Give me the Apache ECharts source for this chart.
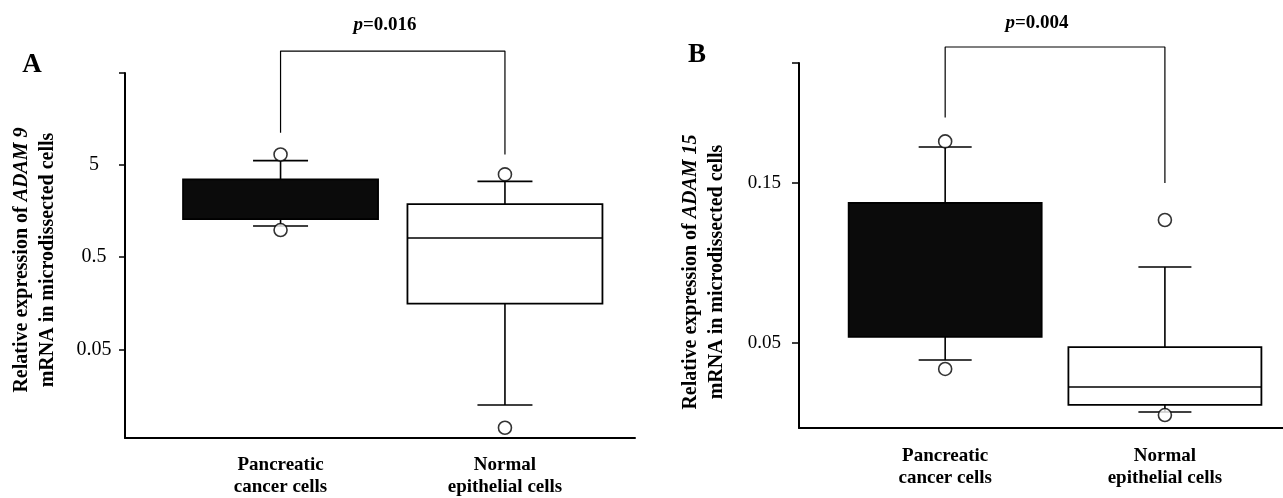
<!DOCTYPE html>
<html>
<head>
<meta charset="utf-8">
<script src="https://cdn.jsdelivr.net/npm/echarts@6/dist/echarts.min.js"></script>
<style>
  html, body { margin: 0; padding: 0; background: #fff; }
  #chart { width: 1283px; height: 498px; }
</style>
</head>
<body>
<div id="chart"></div>
<script>
// ---------------- data ----------------
const categories = ['Pancreatic\ncancer cells', 'Normal\nepithelial cells'];

// Panel A: ADAM 9 (log scale)  [min, Q1, median, Q3, max]
const adam9Pancreatic = [1.08, 1.28, 2.1, 3.45, 5.5];
const adam9Normal = [0.0125, 0.156, 0.80, 1.86, 3.28];
const adam9OutliersPancreatic = [6.4, 0.975];
const adam9OutliersNormal = [3.9, 0.0071];
const tickValuesA = [0.05, 0.5, 5];
const tickLabelsA = ['0.05', '0.5', '5'];
const bracketA = [11.0, 84, 6.4]; // left leg end, bar level, right leg end

// Panel B: ADAM 15 (linear scale)  [min, Q1, median, Q3, max]
const adam15Pancreatic = [0.0394, 0.0538, 0.09, 0.1375, 0.1725];
const adam15Normal = [0.0069, 0.0113, 0.0225, 0.0475, 0.0975];
const adam15OutliersPancreatic = [0.176, 0.0338];
const adam15OutliersNormal = [0.1269, 0.005];
const tickValuesB = [0.05, 0.15];
const tickLabelsB = ['0.05', '0.15'];
const bracketB = [0.191, 0.235, 0.150];

const pValues = ['0.016', '0.004'];

// ---------------- layout / style ----------------
const FONT = '"Liberation Serif", "Times New Roman", serif';
const posA = [0.305, 0.745];
const posB = [0.302, 0.756];
const boxFills = ['#0b0b0b', '#ffffff'];
const yMinA = 0.0055, yMaxA = 48.7;
const yMinB = -0.0031, yMaxB = 0.225;

function labelFrom(values, labels) {
  return function (v) {
    let best = 0;
    for (let i = 1; i < values.length; i++) {
      if (Math.abs(values[i] - v) < Math.abs(values[best] - v)) best = i;
    }
    return labels[best];
  };
}

function boxRenderer(boxW, capW) {
  return function (params, api) {
    const x = api.value(0);
    const p = [1, 2, 3, 4, 5].map(i => api.coord([x, api.value(i)]));
    const cx = p[0][0];
    const ls = { stroke: '#000', lineWidth: 1.6 };
    const fill = boxFills[params.dataIndex];
    return {
      type: 'group',
      children: [
        { type: 'line', shape: { x1: cx, y1: p[0][1], x2: cx, y2: p[1][1] }, style: ls },
        { type: 'line', shape: { x1: cx, y1: p[3][1], x2: cx, y2: p[4][1] }, style: ls },
        { type: 'line', shape: { x1: cx - capW / 2, y1: p[0][1], x2: cx + capW / 2, y2: p[0][1] }, style: ls },
        { type: 'line', shape: { x1: cx - capW / 2, y1: p[4][1], x2: cx + capW / 2, y2: p[4][1] }, style: ls },
        { type: 'rect', shape: { x: cx - boxW / 2, y: p[3][1], width: boxW, height: p[1][1] - p[3][1] },
          style: { fill: fill, stroke: '#000', lineWidth: 1.8 } },
        { type: 'line', shape: { x1: cx - boxW / 2, y1: p[2][1], x2: cx + boxW / 2, y2: p[2][1] },
          style: { stroke: '#000', lineWidth: 1.6, opacity: params.dataIndex === 0 ? 0 : 1 } }
      ]
    };
  };
}

function outlierData(pos, a, b) {
  const out = [];
  a.forEach(v => out.push([pos[0], v]));
  b.forEach(v => out.push([pos[1], v]));
  return out;
}

function bracketData(pos, br) {
  return [[pos[0], br[0]], [pos[0], br[1]], [pos[1], br[1]], [pos[1], br[2]]];
}

const axisLineStyle = { show: true, onZero: false, lineStyle: { color: '#000', width: 2 } };
const catLabel = {
  fontFamily: FONT, fontSize: 19, fontWeight: 'bold', color: '#000', lineHeight: 22
};

const chart = echarts.init(document.getElementById('chart'), null, { renderer: 'canvas' });

const option = {
  animation: false,
  backgroundColor: '#fff',
  grid: [
    { left: 125, top: 73, width: 510, height: 367 },
    { left: 799, top: 63, width: 484, height: 365 }
  ],
  xAxis: [
    {
      type: 'value', gridIndex: 0, min: 0, max: 1,
      axisLine: axisLineStyle, axisTick: { show: false }, splitLine: { show: false },
      axisLabel: Object.assign({ customValues: posA, margin: 16, formatter: labelFrom(posA, categories) }, catLabel)
    },
    {
      type: 'value', gridIndex: 1, min: 0, max: 1,
      axisLine: axisLineStyle, axisTick: { show: false }, splitLine: { show: false },
      axisLabel: Object.assign({ customValues: posB, margin: 17, formatter: labelFrom(posB, categories) }, catLabel)
    }
  ],
  yAxis: [
    {
      type: 'log', logBase: 10, gridIndex: 0, min: yMinA, max: yMaxA,
      axisLine: axisLineStyle, splitLine: { show: false },
      axisTick: { show: true, customValues: tickValuesA.concat([yMaxA]), length: 6, lineStyle: { color: '#000', width: 1.5 } },
      axisLabel: {
        customValues: tickValuesA, formatter: labelFrom(tickValuesA, tickLabelsA),
        align: 'center', margin: 31, fontFamily: FONT, fontSize: 20, color: '#000'
      }
    },
    {
      type: 'value', gridIndex: 1, min: yMinB, max: yMaxB,
      axisLine: axisLineStyle, splitLine: { show: false },
      axisTick: { show: true, customValues: tickValuesB.concat([yMaxB]), length: 7, lineStyle: { color: '#000', width: 1.5 } },
      axisLabel: {
        customValues: tickValuesB, formatter: labelFrom(tickValuesB, tickLabelsB),
        align: 'right', margin: 18, fontFamily: FONT, fontSize: 19, color: '#000'
      }
    }
  ],
  series: [
    {
      type: 'custom', xAxisIndex: 0, yAxisIndex: 0,
      encode: { x: 0, y: [1, 2, 3, 4, 5] },
      renderItem: boxRenderer(195, 55),
      data: [[posA[0]].concat(adam9Pancreatic), [posA[1]].concat(adam9Normal)], z: 2
    },
    {
      type: 'scatter', xAxisIndex: 0, yAxisIndex: 0, symbol: 'circle', symbolSize: 13,
      itemStyle: { color: '#fff', borderColor: '#000', borderWidth: 1.6 },
      data: outlierData(posA, adam9OutliersPancreatic, adam9OutliersNormal), z: 3
    },
    {
      type: 'line', xAxisIndex: 0, yAxisIndex: 0, clip: false, symbol: 'none',
      lineStyle: { color: '#000', width: 1.2 },
      data: bracketData(posA, bracketA), z: 1
    },
    {
      type: 'custom', xAxisIndex: 1, yAxisIndex: 1,
      encode: { x: 0, y: [1, 2, 3, 4, 5] },
      renderItem: boxRenderer(193, 53),
      data: [[posB[0]].concat(adam15Pancreatic), [posB[1]].concat(adam15Normal)], z: 2
    },
    {
      type: 'scatter', xAxisIndex: 1, yAxisIndex: 1, symbol: 'circle', symbolSize: 13,
      itemStyle: { color: '#fff', borderColor: '#000', borderWidth: 1.6 },
      data: outlierData(posB, adam15OutliersPancreatic, adam15OutliersNormal), z: 3
    },
    {
      type: 'line', xAxisIndex: 1, yAxisIndex: 1, clip: false, symbol: 'none',
      lineStyle: { color: '#000', width: 1.2 },
      data: bracketData(posB, bracketB), z: 1
    }
  ],
  graphic: [
    { type: 'text', x: 32, y: 65,
      style: { text: 'A', fontFamily: FONT, fontSize: 27, fontWeight: 'bold', fill: '#000',
               align: 'center', verticalAlign: 'middle', textAlign: 'center', textVerticalAlign: 'middle' } },
    { type: 'text', x: 697, y: 55,
      style: { text: 'B', fontFamily: FONT, fontSize: 27, fontWeight: 'bold', fill: '#000',
               align: 'center', verticalAlign: 'middle', textAlign: 'center', textVerticalAlign: 'middle' } },
    { type: 'text', x: 385, y: 25,
      style: { text: '{i|p}=' + pValues[0], fontFamily: FONT, fontSize: 19, fontWeight: 'bold', fill: '#000',
               align: 'center', verticalAlign: 'middle', textAlign: 'center', textVerticalAlign: 'middle',
               rich: { i: { fontFamily: FONT, fontSize: 19, fontWeight: 'bold', fontStyle: 'italic', fill: '#000' } } } },
    { type: 'text', x: 1037, y: 23,
      style: { text: '{i|p}=' + pValues[1], fontFamily: FONT, fontSize: 19, fontWeight: 'bold', fill: '#000',
               align: 'center', verticalAlign: 'middle', textAlign: 'center', textVerticalAlign: 'middle',
               rich: { i: { fontFamily: FONT, fontSize: 19, fontWeight: 'bold', fontStyle: 'italic', fill: '#000' } } } },
    { type: 'text', x: 35, y: 260, rotation: Math.PI / 2,
      style: { text: 'Relative expression of {i|ADAM 9}\nmRNA in microdissected cells',
               fontFamily: FONT, fontSize: 20, fontWeight: 'bold', fill: '#000', lineHeight: 26,
               align: 'center', verticalAlign: 'middle', textAlign: 'center', textVerticalAlign: 'middle',
               rich: { i: { fontFamily: FONT, fontSize: 20, fontWeight: 'bold', fontStyle: 'italic', fill: '#000', lineHeight: 26 } } } },
    { type: 'text', x: 704, y: 272, rotation: Math.PI / 2,
      style: { text: 'Relative expression of {i|ADAM 15}\nmRNA in microdissected cells',
               fontFamily: FONT, fontSize: 20, fontWeight: 'bold', fill: '#000', lineHeight: 26,
               align: 'center', verticalAlign: 'middle', textAlign: 'center', textVerticalAlign: 'middle',
               rich: { i: { fontFamily: FONT, fontSize: 20, fontWeight: 'bold', fontStyle: 'italic', fill: '#000', lineHeight: 26 } } } }
  ]
};

chart.setOption(option);
</script>
</body>
</html>
